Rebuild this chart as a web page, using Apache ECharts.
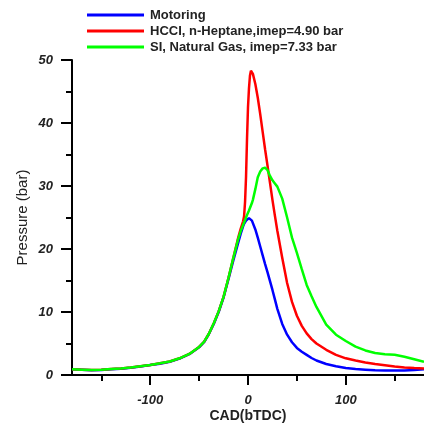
<!DOCTYPE html>
<html>
<head>
<meta charset="utf-8">
<script src="https://cdn.jsdelivr.net/npm/echarts@6/dist/echarts.min.js"></script>
<style>html,body{margin:0;padding:0;background:#fff}#c{width:424px;height:425px}</style>
</head>
<body>
<div id="c"></div>
<script>
var seriesNames = ['Motoring', 'HCCI, n-Heptane,imep=4.90 bar', 'SI, Natural Gas, imep=7.33 bar'];
var cad = [-180,-170,-160,-150,-140,-130,-120,-110,-100,-90,-80,-70,-60,-50,-45,-40,-35,-30,-25,-20,-15,-10,-7.5,-5,-4,-3,-2,-1,0,1,2,3,4,5,7.5,10,12.5,15,17.5,20,22.5,25,27.5,30,35,40,45,50,55,60,65,70,80,90,100,110,120,130,140,150,160,170,180];
var pMotoring = [0.9,0.85,0.75,0.8,0.9,1.0,1.15,1.35,1.6,1.8,2.1,2.6,3.3,4.4,5.2,6.5,8.1,10.0,12.3,15.2,18.2,21.0,22.4,23.6,24.0,24.3,24.5,24.7,24.8,24.9,24.9,24.8,24.5,24.2,23.1,21.8,20.4,19.0,17.6,16.3,14.9,13.5,12.0,10.5,8.1,6.4,5.2,4.3,3.7,3.2,2.7,2.3,1.75,1.4,1.1,0.95,0.85,0.75,0.7,0.7,0.72,0.8,0.9];
var pHCCI = [0.9,0.85,0.8,0.85,0.95,1.05,1.2,1.4,1.6,1.85,2.15,2.65,3.35,4.45,5.25,6.55,8.2,10.1,12.4,15.4,18.6,21.8,23.2,24.4,25.2,27.5,31.5,37.5,42.5,45.5,47.5,48.3,48.3,47.8,46.2,44.0,41.4,38.6,35.8,33.2,30.5,27.8,25.3,22.9,18.6,14.6,11.6,9.4,7.8,6.6,5.7,5.0,4.0,3.2,2.65,2.3,2.0,1.75,1.55,1.35,1.2,1.1,1.05];
var pSI = [0.9,0.85,0.8,0.85,0.95,1.05,1.2,1.4,1.6,1.85,2.15,2.65,3.35,4.45,5.25,6.55,8.2,10.1,12.4,15.4,18.6,21.6,22.8,23.8,24.2,24.6,25.0,25.4,25.7,26.1,26.5,26.9,27.3,27.8,29.5,31.4,32.3,32.8,32.9,32.5,31.6,30.9,30.4,29.9,28.0,25.0,21.8,19.4,16.8,14.3,12.5,10.8,8.0,6.4,5.4,4.5,3.9,3.5,3.3,3.2,2.9,2.5,2.1];
var xLabelTicks = [-100, 0, 100];
var xMinorTicks = [-150, -50, 50, 150];

function pairs(xs, ys) { return xs.map(function (x, i) { return [x, ys[i]]; }); }

var font = '"Liberation Sans", Arial, sans-serif';
var chart = echarts.init(document.getElementById('c'));
var colors = ['#0000ff', '#ff0000', '#00ff00'];
var dataSets = [pMotoring, pHCCI, pSI];

chart.setOption({
  animation: false,
  grid: { left: 72, right: 0, top: 60, bottom: 50, containLabel: false, outerBoundsMode: 'none' },
  legend: {
    orient: 'vertical', left: 87, top: 8, padding: 0, itemWidth: 57, itemHeight: 3, itemGap: 2, icon: 'rect',
    textStyle: { fontFamily: font, fontWeight: 'bold', fontSize: 13, lineHeight: 14, color: '#222', padding: [0, 0, 0, 1] },
    data: seriesNames
  },
  xAxis: [{
    type: 'value', min: -180, max: 180,
    name: 'CAD(bTDC)', nameLocation: 'middle', nameGap: 34, nameMoveOverlap: false,
    nameTextStyle: { fontFamily: font, fontWeight: 'bold', fontSize: 14, color: '#222' },
    axisLine: { show: true, onZero: false, lineStyle: { color: '#000', width: 2 } },
    axisTick: { show: true, length: 10, customValues: xLabelTicks, lineStyle: { color: '#000', width: 2 } },
    axisLabel: { customValues: xLabelTicks, margin: 19, fontFamily: font, fontWeight: 'bold', fontStyle: 'italic', fontSize: 13, color: '#222' },
    splitLine: { show: false }
  }, {
    type: 'value', min: -180, max: 180, position: 'bottom',
    axisLine: { show: false, onZero: false },
    axisTick: { show: true, length: 6, customValues: xMinorTicks, lineStyle: { color: '#000', width: 2 } },
    axisLabel: { show: false },
    splitLine: { show: false }
  }],
  yAxis: {
    type: 'value', min: 0, max: 50, interval: 10,
    name: 'Pressure (bar)', nameLocation: 'middle', nameGap: 42, nameMoveOverlap: false,
    nameTextStyle: { fontFamily: font, fontSize: 15, color: '#222' },
    axisLine: { show: true, onZero: false, lineStyle: { color: '#000', width: 2 } },
    axisTick: { show: true, length: 11, lineStyle: { color: '#000', width: 2 } },
    minorTick: { show: true, splitNumber: 2, length: 6, lineStyle: { color: '#000', width: 2 } },
    axisLabel: { margin: 19, fontFamily: font, fontWeight: 'bold', fontStyle: 'italic', fontSize: 13, color: '#222' },
    splitLine: { show: false }
  },
  series: seriesNames.map(function (n, i) {
    return {
      name: n, type: 'line', xAxisIndex: 0, symbol: 'none', smooth: false,
      lineStyle: { color: colors[i], width: 2.5 }, itemStyle: { color: colors[i] },
      data: pairs(cad, dataSets[i])
    };
  })
});
</script>
</body>
</html>
